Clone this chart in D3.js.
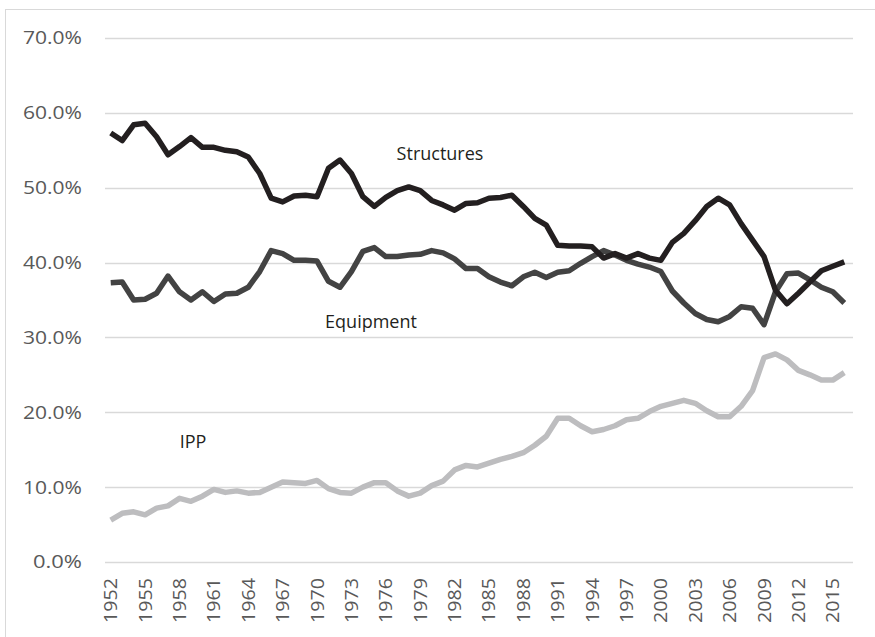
<!DOCTYPE html>
<html>
<head>
<meta charset="utf-8">
<script src="https://cdn.jsdelivr.net/npm/d3@7"></script>
<style>
  body { margin: 0; background: #fff; }
  text { font-family: "Open Sans", sans-serif; }
</style>
</head>
<body>
<div id="chart"></div>
<script>
///////////////////////////////////////////////////////////////////////////////
//// Data /////////////////////////////////////////////////////////////////////
///////////////////////////////////////////////////////////////////////////////

const years = d3.range(1952, 2017);

const tickYears = [1952, 1955, 1958, 1961, 1964, 1967, 1970, 1973, 1976, 1979, 1982,
  1985, 1988, 1991, 1994, 1997, 2000, 2003, 2006, 2009, 2012, 2015];

const yTicks = [0, 10, 20, 30, 40, 50, 60, 70];

// Share of investment, percent
const structures = [57.3, 56.3, 58.4, 58.6, 56.8, 54.4, 55.5, 56.7, 55.4, 55.4,
  55.0, 54.8, 54.1, 51.9, 48.6, 48.1, 48.9, 49.0, 48.8, 52.6,
  53.7, 51.9, 48.8, 47.5, 48.7, 49.6, 50.1, 49.6, 48.3, 47.7,
  47.0, 47.9, 48.0, 48.6, 48.7, 49.0, 47.5, 45.9, 45.0, 42.3,
  42.2, 42.2, 42.1, 40.6, 41.2, 40.6, 41.2, 40.6, 40.3, 42.7,
  43.9, 45.6, 47.5, 48.6, 47.7, 45.2, 43.0, 40.8, 36.3, 34.5,
  35.9, 37.4, 38.9, 39.5, 40.1];

const equipment = [37.3, 37.4, 35.0, 35.1, 35.9, 38.2, 36.1, 35.0, 36.1, 34.8,
  35.8, 35.9, 36.7, 38.8, 41.6, 41.2, 40.3, 40.3, 40.2, 37.5,
  36.7, 38.8, 41.5, 42.0, 40.8, 40.8, 41.0, 41.1, 41.6, 41.3,
  40.5, 39.2, 39.2, 38.1, 37.4, 36.9, 38.1, 38.7, 38.0, 38.7,
  38.9, 39.9, 40.8, 41.6, 41.0, 40.3, 39.8, 39.4, 38.8, 36.2,
  34.6, 33.2, 32.4, 32.1, 32.8, 34.1, 33.9, 31.7, 36.1, 38.5,
  38.6, 37.7, 36.7, 36.1, 34.6];

const ipp = [5.6, 6.5, 6.7, 6.3, 7.2, 7.5, 8.5, 8.1, 8.8, 9.7,
  9.3, 9.5, 9.2, 9.3, 10.0, 10.7, 10.6, 10.5, 10.9, 9.8,
  9.3, 9.2, 10.0, 10.6, 10.6, 9.5, 8.8, 9.2, 10.2, 10.8,
  12.3, 12.9, 12.7, 13.2, 13.7, 14.1, 14.6, 15.6, 16.8, 19.2,
  19.2, 18.2, 17.4, 17.7, 18.2, 19.0, 19.2, 20.1, 20.8, 21.2,
  21.6, 21.2, 20.2, 19.4, 19.4, 20.8, 22.9, 27.3, 27.8, 27.0,
  25.6, 25.0, 24.3, 24.3, 25.3];

const series = [
  { name: "Structures", values: structures, color: "#231f20", label: [440, 160] },
  { name: "Equipment", values: equipment, color: "#434343", label: [371, 328] },
  { name: "IPP", values: ipp, color: "#bdbdbf", label: [193, 448] }
];

///////////////////////////////////////////////////////////////////////////////
//// Set Up ///////////////////////////////////////////////////////////////////
///////////////////////////////////////////////////////////////////////////////

const width = 875,
      height = 637;

const svg = d3.select("#chart").append("svg")
    .attr("width", width)
    .attr("height", height);

// Chart area border
svg.append("rect")
    .attr("x", 5.5)
    .attr("y", 9.5)
    .attr("width", 900)
    .attr("height", 700)
    .attr("fill", "none")
    .attr("stroke", "#d9d9d9")
    .attr("stroke-width", 1);

const x = d3.scalePoint()
    .domain(years)
    .range([105, 850])
    .padding(0.5);

const y = d3.scaleLinear()
    .domain([0, 70])
    .range([562, 38]);

///////////////////////////////////////////////////////////////////////////////
//// Axes /////////////////////////////////////////////////////////////////////
///////////////////////////////////////////////////////////////////////////////

// Gridlines
svg.append("g")
  .selectAll("line")
  .data(yTicks)
  .enter().append("line")
    .attr("x1", 105)
    .attr("x2", 853)
    .attr("y1", d => Math.round(y(d)) + 0.5)
    .attr("y2", d => Math.round(y(d)) + 0.5)
    .attr("stroke", "#d9d9d9")
    .attr("stroke-width", 1.5);

// Y axis labels (wider glyphs like the original)
svg.append("g")
  .selectAll("text")
  .data(yTicks)
  .enter().append("text")
    .attr("x", 82)
    .attr("y", d => y(d))
    .attr("dy", "0.36em")
    .attr("text-anchor", "end")
    .attr("fill", "#595959")
    .attr("textLength", d => d < 10 ? 49 : 59)
    .attr("lengthAdjust", "spacingAndGlyphs")
    .style("font-size", "18px")
    .text(d => d3.format(".1f")(d) + "%");

// X axis labels, rotated
svg.append("g")
  .selectAll("text")
  .data(tickYears)
  .enter().append("text")
    .attr("transform", d => `translate(${x(d)}, 623) rotate(-90)`)
    .attr("text-anchor", "start")
    .attr("dy", "0.36em")
    .attr("fill", "#595959")
    .attr("textLength", 45)
    .attr("lengthAdjust", "spacingAndGlyphs")
    .style("font-size", "18px")
    .text(d => d);

///////////////////////////////////////////////////////////////////////////////
//// Lines ////////////////////////////////////////////////////////////////////
///////////////////////////////////////////////////////////////////////////////

const line = d3.line()
    .x((d, i) => x(years[i]))
    .y(d => y(d));

svg.append("g")
  .selectAll("path")
  .data(series.slice().reverse())
  .enter().append("path")
    .attr("d", d => line(d.values))
    .attr("fill", "none")
    .attr("stroke", d => d.color)
    .attr("stroke-width", 5.5)
    .attr("stroke-linejoin", "round");

// Series labels
svg.append("g")
  .selectAll("text")
  .data(series)
  .enter().append("text")
    .attr("x", d => d.label[0])
    .attr("y", d => d.label[1])
    .attr("text-anchor", "middle")
    .attr("fill", "#231f20")
    .style("font-size", "18px")
    .text(d => d.name);
</script>
</body>
</html>
